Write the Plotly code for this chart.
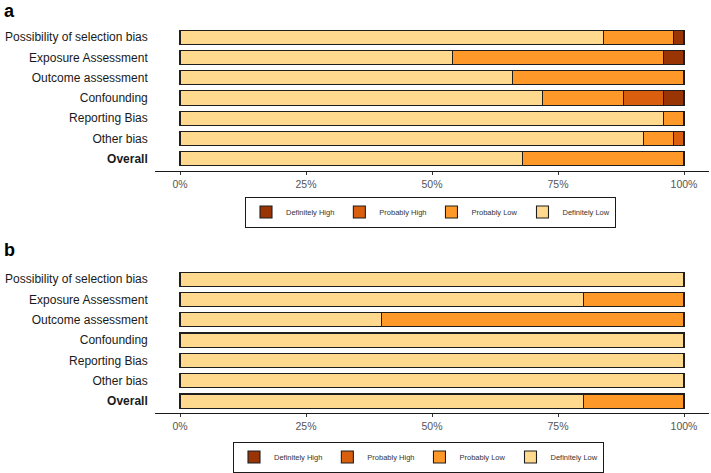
import plotly.graph_objects as go

# ---- data ----
domains = ["Possibility of selection bias", "Exposure Assessment", "Outcome assessment",
           "Confounding", "Reporting Bias", "Other bias", "Overall"]
domain_labels = ["Possibility of selection bias", "Exposure Assessment", "Outcome assessment",
                 "Confounding", "Reporting Bias", "Other bias", "<b>Overall</b>"]
levels = ["Definitely Low", "Probably Low", "Probably High", "Definitely High"]
level_colors = ["#FED98E", "#FE9929", "#D95F0E", "#993404"]

# panel a (percent of studies)
a_def_low = [84, 54, 66, 72, 96, 92, 68]
a_prob_low = [14, 42, 34, 16, 4, 6, 32]
a_prob_high = [0, 0, 0, 8, 0, 2, 0]
a_def_high = [2, 4, 0, 4, 0, 0, 0]

# panel b (percent of studies)
b_def_low = [100, 80, 40, 100, 100, 100, 80]
b_prob_low = [0, 20, 60, 0, 0, 0, 20]
b_prob_high = [0, 0, 0, 0, 0, 0, 0]
b_def_high = [0, 0, 0, 0, 0, 0, 0]

x_ticks = [0, 25, 50, 75, 100]
x_ticktext = ["0%", "25%", "50%", "75%", "100%"]

FONT = "Liberation Sans, Arial, Helvetica, sans-serif"
W, H = 711, 473

fig = go.Figure()

panels = [
    ([a_def_low, a_prob_low, a_prob_high, a_def_high], "x", "y", "legend"),
    ([b_def_low, b_prob_low, b_prob_high, b_def_high], "x2", "y2", "legend2"),
]
for vals_list, xa, ya, lg in panels:
    for lev, col, vals in zip(levels, level_colors, vals_list):
        fig.add_trace(go.Bar(
            y=domains, x=vals, orientation="h", name=lev,
            marker=dict(color=col, line=dict(color="#1e1e1e", width=1.1)),
            width=0.7, xaxis=xa, yaxis=ya, legend=lg,
            hovertemplate="%{y}: %{x}%<extra>" + lev + "</extra>",
        ))

x_dom = [154.8 / W, 709.2 / W]
ya_dom = [1 - 170.96 / H, 1 - 27.07 / H]
yb_dom = [1 - 413.3 / H, 1 - 269.0 / H]

xcommon = dict(range=[-5, 105], tickvals=x_ticks, ticktext=x_ticktext,
               showline=True, linecolor="#1a1a1a", linewidth=1,
               ticks="outside", ticklen=3, tickcolor="#333333", tickwidth=1,
               showgrid=False, zeroline=False,
               tickfont=dict(family=FONT, size=10.5, color="#555555"),
               fixedrange=True)
ycommon = dict(type="category", categoryorder="array", categoryarray=domains,
               tickmode="array", tickvals=domains, ticktext=domain_labels,
               range=[6.6, -0.5], showline=False, ticks="", showgrid=False,
               zeroline=False, ticklabelstandoff=6,
               tickfont=dict(family=FONT, size=12, color="#1a1a1a"),
               fixedrange=True)

legcommon = dict(orientation="h", traceorder="reversed", xref="paper", yref="paper",
                 xanchor="left", yanchor="top", bgcolor="white",
                 bordercolor="#1a1a1a", borderwidth=1,
                 font=dict(family=FONT, size=7.5, color="#333333"))

fig.update_layout(
    width=W, height=H,
    margin=dict(l=0, r=0, t=0, b=0),
    paper_bgcolor="white", plot_bgcolor="white",
    barmode="stack", bargap=0.3,
    xaxis=dict(domain=x_dom, anchor="y", **xcommon),
    yaxis=dict(domain=ya_dom, anchor="x", **ycommon),
    xaxis2=dict(domain=x_dom, anchor="y2", **xcommon),
    yaxis2=dict(domain=yb_dom, anchor="x2", **ycommon),
    legend=dict(x=245 / W, y=1 - 196.5 / H, **legcommon),
    legend2=dict(x=233 / W, y=1 - 441.5 / H, **legcommon),
    font=dict(family=FONT),
    annotations=[
        dict(text="<b>a</b>", x=2 / W, y=1 - 10.5 / H, xref="paper", yref="paper",
             xanchor="left", yanchor="middle", showarrow=False,
             font=dict(family=FONT, size=18, color="black")),
        dict(text="<b>b</b>", x=2 / W, y=1 - 249.5 / H, xref="paper", yref="paper",
             xanchor="left", yanchor="middle", showarrow=False,
             font=dict(family=FONT, size=18, color="black")),
    ],
)

fig.write_html("out.html", config={"displayModeBar": False},
               post_script="document.body.style.margin='0px';")
